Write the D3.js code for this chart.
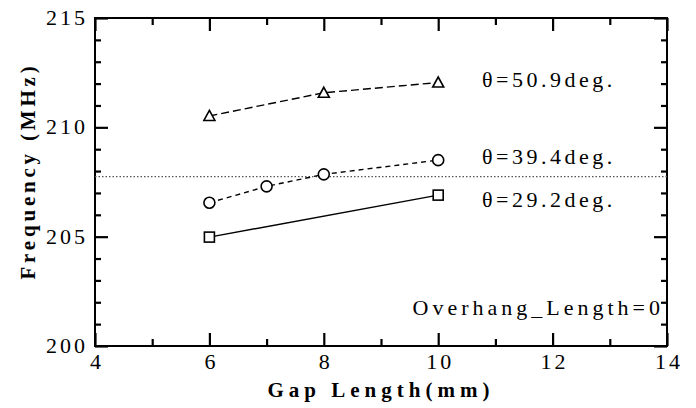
<!DOCTYPE html>
<html>
<head>
<meta charset="utf-8">
<script src="https://cdn.jsdelivr.net/npm/d3@7"></script>
</head>
<body style="margin:0">
<svg id="chart" width="696" height="408"></svg>
<script>
// gap length (mm) for each series
const gap50 = [6, 8, 10];
const freq50 = [210.52, 211.58, 212.05];
const gap39 = [6, 7, 8, 10];
const freq39 = [206.55, 207.3, 207.85, 208.5];
const gap29 = [6, 10];
const freq29 = [204.98, 206.9];
const refLine = 207.75;

const seriesLabels = ["\u03b8=50.9deg.", "\u03b8=39.4deg.", "\u03b8=29.2deg."];
const labelAt = [211.85, 208.32, 206.36];
const xTicks = [4, 6, 8, 10, 12, 14];
const yTicks = [200, 205, 210, 215];

var margin = {top: 18, right: 29, bottom: 62, left: 95},
    width = 696 - margin.left - margin.right,
    height = 408 - margin.top - margin.bottom;

var root = d3.select("#chart");
var svg = root.append("g")
  .attr("transform", "translate(" + margin.left + "," + margin.top + ")");

var x = d3.scaleLinear().domain([4, 14]).range([0, width]);
var y = d3.scaleLinear().domain([200, 215]).range([height, 0]);

var xMinor = d3.range(5, 14, 2);
var yMinor = d3.range(201, 215).filter(v => v % 5 != 0);

// inward ticks on all four sides, no labels
function tickAxis(axisFn, scale, vals, len, tx, ty) {
  var g = svg.append("g")
    .attr("transform", "translate(" + tx + "," + ty + ")")
    .call(axisFn(scale).tickValues(vals).tickSize(-len).tickFormat(""));
  g.select(".domain").remove();
  g.selectAll("line").attr("stroke", "#000").attr("stroke-width", 2.2);
}
tickAxis(d3.axisBottom, x, xTicks, 13, 0, height);
tickAxis(d3.axisBottom, x, xMinor, 7, 0, height);
tickAxis(d3.axisTop, x, xTicks, 13, 0, 0);
tickAxis(d3.axisTop, x, xMinor, 7, 0, 0);
tickAxis(d3.axisLeft, y, yTicks, 13, 0, 0);
tickAxis(d3.axisLeft, y, yMinor, 6, 0, 0);
tickAxis(d3.axisRight, y, yTicks, 13, width, 0);
tickAxis(d3.axisRight, y, yMinor, 6, width, 0);

svg.append("rect")
  .attr("width", width).attr("height", height)
  .attr("fill", "none").attr("stroke", "#000").attr("stroke-width", 2);

function txt(sel, size, ls, bold) {
  return sel.attr("font-family", "Liberation Serif")
    .style("font-size", size + "px")
    .style("letter-spacing", ls + "px")
    .attr("font-weight", bold ? "bold" : "normal")
    .attr("fill", "#000");
}

// tick labels
txt(svg.selectAll(".xl").data(xTicks).enter().append("text")
  .attr("x", d => x(d) + 2).attr("y", height + 23)
  .attr("text-anchor", "middle")
  .text(d => d), 22, 3, false);
txt(svg.selectAll(".yl").data(yTicks).enter().append("text")
  .attr("x", -7).attr("y", d => y(d) + 7)
  .attr("text-anchor", "end")
  .text(d => d), 22, 3, false);

// axis titles
txt(svg.append("text")
  .attr("x", width / 2).attr("y", height + 51)
  .attr("text-anchor", "middle")
  .text("Gap Length(mm)"), 21, 5, true);
txt(svg.append("text")
  .attr("transform", "translate(" + (-60) + "," + (y(208)) + ") rotate(-90)")
  .attr("text-anchor", "middle")
  .text("Frequency (MHz)"), 21, 3.8, true);

// dotted reference line
svg.append("line")
  .attr("x1", 0).attr("x2", width).attr("y1", y(refLine)).attr("y2", y(refLine))
  .attr("stroke", "#555").attr("stroke-width", 1.2).attr("stroke-dasharray", "1.5,2");

var line = d3.line().x(d => x(d[0])).y(d => y(d[1]));

var s50 = d3.zip(gap50, freq50), s39 = d3.zip(gap39, freq39), s29 = d3.zip(gap29, freq29);

svg.append("path").datum(s50).attr("d", line)
  .attr("fill", "none").attr("stroke", "#000").attr("stroke-width", 1.4).attr("stroke-dasharray", "8,4");
svg.append("path").datum(s39).attr("d", line)
  .attr("fill", "none").attr("stroke", "#000").attr("stroke-width", 1.4).attr("stroke-dasharray", "5,4");
svg.append("path").datum(s29).attr("d", line)
  .attr("fill", "none").attr("stroke", "#000").attr("stroke-width", 1.4);

svg.selectAll(".tri").data(s50).enter().append("path")
  .attr("transform", d => "translate(" + x(d[0]) + "," + y(d[1]) + ")")
  .attr("d", "M0,-5.5L5.5,4.5L-5.5,4.5Z")
  .attr("fill", "#fff").attr("stroke", "#000").attr("stroke-width", 1.6);
svg.selectAll(".cir").data(s39).enter().append("circle")
  .attr("cx", d => x(d[0])).attr("cy", d => y(d[1])).attr("r", 5.5)
  .attr("fill", "#fff").attr("stroke", "#000").attr("stroke-width", 1.6);
svg.selectAll(".sq").data(s29).enter().append("rect")
  .attr("x", d => x(d[0]) - 5).attr("y", d => y(d[1]) - 5).attr("width", 10).attr("height", 10)
  .attr("fill", "#fff").attr("stroke", "#000").attr("stroke-width", 1.6);

// series labels
txt(svg.selectAll(".lab").data(seriesLabels).enter().append("text")
  .attr("x", 387).attr("y", (d, i) => y(labelAt[i]))
  .text(d => d), 22, 3.5, false);

txt(svg.append("text")
  .attr("x", width - 3).attr("y", 297)
  .attr("text-anchor", "end")
  .text("Overhang_Length=0"), 22, 4, false);
</script>
</body>
</html>
